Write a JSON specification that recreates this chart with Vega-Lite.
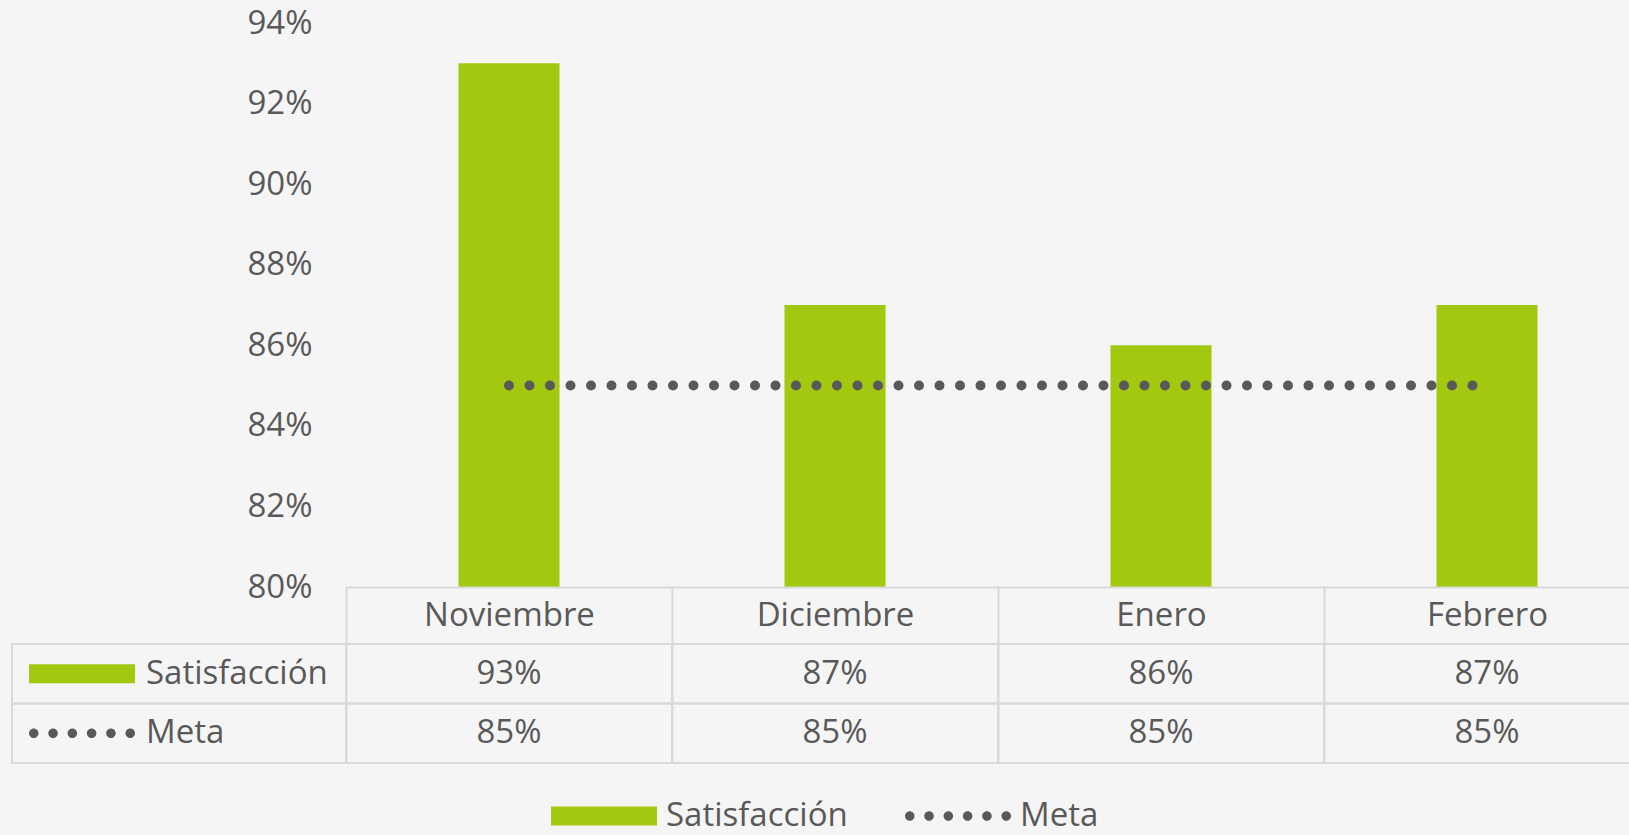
{
  "$schema": "https://vega.github.io/schema/vega-lite/v6.json",
  "width": 1283,
  "height": 564,
  "autosize": {"type": "none"},
  "padding": {"left": 346, "top": 23, "right": 0, "bottom": 248},
  "background": "#f5f5f5",
  "config": {
    "view": {"stroke": null},
    "font": "Open Sans",
    "text": {"font": "Open Sans"}
  },
  "data": {
    "values": [
      {"mes": "Noviembre", "serie": "Satisfacción", "valor": 0.93},
      {"mes": "Diciembre", "serie": "Satisfacción", "valor": 0.87},
      {"mes": "Enero", "serie": "Satisfacción", "valor": 0.86},
      {"mes": "Febrero", "serie": "Satisfacción", "valor": 0.87},
      {"mes": "Noviembre", "serie": "Meta", "valor": 0.85},
      {"mes": "Diciembre", "serie": "Meta", "valor": 0.85},
      {"mes": "Enero", "serie": "Meta", "valor": 0.85},
      {"mes": "Febrero", "serie": "Meta", "valor": 0.85}
    ]
  },
  "layer": [
    {
      "layer": [
        {
          "transform": [{"filter": "datum.serie === 'Satisfacción'"}],
          "mark": {"type": "bar", "color": "#a2c80f"},
          "encoding": {
            "x": {
              "field": "mes", "type": "nominal", "sort": null,
              "scale": {"domain": ["Noviembre", "Diciembre", "Enero", "Febrero"], "range": [0, 1304], "paddingInner": 0.69, "paddingOuter": 0.345},
              "axis": null
            },
            "y": {
              "field": "valor", "type": "quantitative",
              "scale": {"domain": [0.8, 0.94], "nice": false, "zero": false},
              "axis": {
                "orient": "left",
                "title": null, "format": ".0%", "values": [0.8, 0.82, 0.84, 0.86, 0.88, 0.9, 0.92, 0.94],
                "domain": false, "ticks": false, "grid": false,
                "labelFontSize": 33, "labelColor": "#595959", "labelPadding": 34
              }
            },
            "y2": {"datum": 0.8}
          }
        },
        {
          "transform": [{"filter": "datum.serie === 'Meta'"}],
          "mark": {"type": "line", "color": "#595959", "strokeWidth": 10, "strokeDash": [0, 20.5], "strokeCap": "round"},
          "encoding": {
            "x": {"field": "mes", "type": "nominal", "sort": null},
            "y": {"field": "valor", "type": "quantitative"},
            "order": {"value": null}
          }
        }
      ]
    },
    {
      "encoding": {
        "x": {
          "field": "mes", "type": "nominal", "sort": null,
          "scale": {"domain": ["Noviembre", "Diciembre", "Enero", "Febrero"], "range": [0, 1304], "paddingInner": 0, "paddingOuter": 0},
          "axis": {
            "orient": "bottom",
            "title": null, "labelAngle": 0, "domain": true, "domainColor": "#d9d9d9", "domainWidth": 2,
            "ticks": true, "tickBand": "extent", "tickSize": 176, "tickColor": "#d9d9d9", "tickWidth": 2,
            "labelFontSize": 33, "labelColor": "#595959", "labelBaseline": "middle", "labelPadding": -148, "labelLimit": 400
          }
        },
        "y": {
          "field": "serie", "type": "nominal", "sort": null,
          "scale": {"domain": ["Satisfacción", "Meta"], "range": [621, 740], "paddingInner": 0, "paddingOuter": 0},
          "axis": null
        }
      },
      "layer": [
        {
          "mark": {"type": "rect", "fill": "#ffffff", "fillOpacity": 0, "stroke": "#d9d9d9", "strokeWidth": 2}
        },
        {
          "mark": {"type": "text", "fontSize": 33, "color": "#595959", "align": "center", "baseline": "middle"},
          "encoding": {"text": {"field": "valor", "type": "quantitative", "format": ".0%"}}
        }
      ]
    },
    {
      "transform": [{"filter": "datum.mes === 'Noviembre'"}],
      "encoding": {
        "x": {
          "datum": "Serie", "type": "nominal",
          "scale": {"domain": ["Serie"], "range": [-334, 0], "paddingInner": 0, "paddingOuter": 0},
          "axis": null
        },
        "y": {
          "field": "serie", "type": "nominal", "sort": null,
          "scale": {"domain": ["Satisfacción", "Meta"], "range": [621, 740], "paddingInner": 0, "paddingOuter": 0},
          "axis": null
        }
      },
      "layer": [
        {
          "mark": {"type": "rect", "fill": "#ffffff", "fillOpacity": 0, "stroke": "#d9d9d9", "strokeWidth": 2}
        },
        {
          "mark": {"type": "point", "filled": true, "opacity": 1, "size": 11236, "xOffset": -97, "strokeWidth": 0},
          "encoding": {
            "shape": {
              "field": "serie", "type": "nominal",
              "scale": {
                "domain": ["Satisfacción", "Meta"],
                "range": [
                  "M-1,-0.18H1V0.18H-1Z",
                  "M-1,0a0.09,0.09,0,1,0,0.18,0a0.09,0.09,0,1,0,-0.18,0ZM-0.636,0a0.09,0.09,0,1,0,0.18,0a0.09,0.09,0,1,0,-0.18,0ZM-0.272,0a0.09,0.09,0,1,0,0.18,0a0.09,0.09,0,1,0,-0.18,0ZM0.092,0a0.09,0.09,0,1,0,0.18,0a0.09,0.09,0,1,0,-0.18,0ZM0.456,0a0.09,0.09,0,1,0,0.18,0a0.09,0.09,0,1,0,-0.18,0ZM0.82,0a0.09,0.09,0,1,0,0.18,0a0.09,0.09,0,1,0,-0.18,0Z"
                ]
              },
              "legend": {
                "orient": "none", "legendX": 205, "legendY": 740, "direction": "horizontal", "title": null,
                "symbolSize": 11236, "symbolStrokeWidth": 0, "symbolOpacity": 1,
                "labelFontSize": 33, "labelColor": "#595959", "labelOffset": 9, "labelLimit": 400,
                "columnPadding": 57, "padding": 0
              }
            },
            "color": {
              "field": "serie", "type": "nominal",
              "scale": {"domain": ["Satisfacción", "Meta"], "range": ["#a2c80f", "#595959"]},
              "legend": {
                "orient": "none", "legendX": 205, "legendY": 740, "direction": "horizontal", "title": null,
                "symbolSize": 11236, "symbolStrokeWidth": 0, "symbolOpacity": 1,
                "labelFontSize": 33, "labelColor": "#595959", "labelOffset": 9, "labelLimit": 400,
                "columnPadding": 57, "padding": 0
              }
            }
          }
        },
        {
          "mark": {"type": "text", "fontSize": 33, "color": "#595959", "align": "left", "baseline": "middle", "dx": -33},
          "encoding": {"text": {"field": "serie", "type": "nominal"}}
        }
      ]
    }
  ],
  "resolve": {"scale": {"x": "independent", "y": "independent"}}
}
